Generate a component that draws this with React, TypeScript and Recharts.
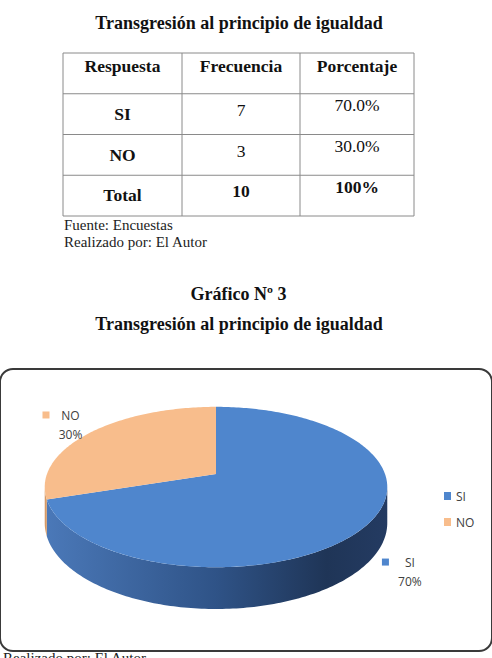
import { PieChart, Pie, Legend } from "recharts";

const categories = ["SI", "NO"];
const frequencies = [7, 3];
const percentLabels = ["70.0%", "30.0%"];
const tableHeaders = ["Respuesta", "Frecuencia", "Porcentaje"];
const totalRow = ["Total", "10", "100%"];
const sliceColors = ["#4f86cd", "#f8bd8c"];

const title = "Transgresión al principio de igualdad";
const chartNumber = "Gráfico Nº 3";
const notes = ["Fuente: Encuestas", "Realizado por: El Autor"];

const pieData = categories.map((name, i) => ({ name, value: frequencies[i], fill: sliceColors[i] }));

const SERIF = "'Times New Roman', 'Liberation Serif', serif";
const SANS = "'Open Sans', 'Liberation Sans', sans-serif";

// fake 3D: tilted ellipse with a bit of perspective
const K = 0.1625;
const FLAT = 0.462;
const DEPTH = 35;
const EDGE = (Math.asin(K) * 180) / Math.PI;
const sideShades: Record<string, string[]> = {
  SI: ["#4b79b9", "#2f5387", "#1f3557", "#243b62"],
  NO: ["#d69a66", "#b07545", "#7d5230", "#8a5b36"],
};

const proj = (cx: number, cy: number, r: number, deg: number) => {
  const a = (deg * Math.PI) / 180;
  const s = Math.sin(a);
  const w = 1 / (1 + K * s);
  return { x: cx + r * Math.cos(a) * w, y: cy - r * FLAT * s * w, w };
};

const arc = (cx: number, cy: number, r: number, a1: number, a2: number) => {
  const n = Math.max(2, Math.ceil(Math.abs(a2 - a1)));
  const pts = [];
  for (let i = 0; i <= n; i++) pts.push(proj(cx, cy, r, a1 + ((a2 - a1) * i) / n));
  return pts;
};

function TopSlice(props: any) {
  const { cx, cy, outerRadius, startAngle, endAngle, fill } = props;
  const pts = arc(cx, cy, outerRadius, startAngle, endAngle);
  const d = `M${cx},${cy}` + pts.map((p) => `L${p.x.toFixed(2)},${p.y.toFixed(2)}`).join("") + "Z";
  return <path d={d} fill={fill} stroke="none" />;
}

function SideSlice(props: any) {
  const { cx, cy, outerRadius, startAngle, endAngle } = props;
  const name = props.name ?? props.payload?.name;
  const shades = sideShades[name] ?? sideShades.SI;
  const lo = Math.min(startAngle, endAngle);
  const hi = Math.max(startAngle, endAngle);
  const paths: string[] = [];
  for (let k = -2; k <= 1; k++) {
    const a = Math.max(lo, -180 + EDGE + 360 * k);
    const b = Math.min(hi, -EDGE + 360 * k);
    if (b - a <= 0) continue;
    const top = arc(cx, cy, outerRadius, a, b);
    const bottom = [...top].reverse();
    paths.push(
      "M" +
        top.map((p) => `${p.x.toFixed(2)},${p.y.toFixed(2)}`).join("L") +
        "L" +
        bottom.map((p) => `${p.x.toFixed(2)},${(p.y + DEPTH * p.w).toFixed(2)}`).join("L") +
        "Z"
    );
  }
  const gid = `side-${name}`;
  const x1 = cx - outerRadius * 1.02;
  const x2 = cx + outerRadius * 1.02;
  return (
    <g>
      <defs>
        <linearGradient id={gid} gradientUnits="userSpaceOnUse" x1={x1} y1={0} x2={x2} y2={0}>
          <stop offset="0" stopColor={shades[0]} />
          <stop offset="0.5" stopColor={shades[1]} />
          <stop offset="0.82" stopColor={shades[2]} />
          <stop offset="1" stopColor={shades[3]} />
        </linearGradient>
      </defs>
      {paths.map((d, i) => (
        <path key={i} d={d} fill={`url(#${gid})`} stroke="none" />
      ))}
    </g>
  );
}

function SliceLabel(props: any) {
  const { cx, cy, outerRadius, midAngle, percent, name, fill } = props;
  const rim = proj(cx, cy, outerRadius, midAngle);
  const front = Math.sin((midAngle * Math.PI) / 180) < 0;
  const bx = cx + (rim.x - cx) * 1.23;
  const by = cy + (rim.y - cy) * 1.17 + (front ? DEPTH * rim.w : 0);
  const textStyle = { fontFamily: SANS, fontSize: 12, fill: "#404040" };
  return (
    <g>
      <rect x={bx - 20} y={by - 13.5} width={7} height={7} fill={fill} />
      <text x={bx + 8} y={by - 9.5} textAnchor="middle" dominantBaseline="central" style={textStyle}>
        {name}
      </text>
      <text x={bx + 8} y={by + 9.5} textAnchor="middle" dominantBaseline="central" style={textStyle}>
        {`${Math.round(percent * 100)}%`}
      </text>
    </g>
  );
}

function LegendBox({ payload }: any) {
  const items = categories
    .map((c) => (payload ?? []).find((p: any) => p.value === c))
    .filter(Boolean);
  return (
    <div style={{ fontFamily: SANS, fontSize: 12, color: "#404040" }}>
      {items.map((p: any) => (
        <div key={p.value} style={{ display: "flex", alignItems: "center", height: 26 }}>
          <span style={{ display: "inline-block", width: 7, height: 8, background: p.color, marginRight: 5 }} />
          {p.value}
        </div>
      ))}
    </div>
  );
}

function DataTable() {
  const left = 63;
  const colX = [63, 182, 300, 414];
  const rowH = 40.75;
  const top = 53;
  const rows = [
    tableHeaders,
    ...categories.map((c, i) => [c, String(frequencies[i]), percentLabels[i]]),
    totalRow,
  ];
  const bodyBase = [26, 22, 17.5];
  return (
    <g>
      {rows.map((row, r) =>
        row.map((cell, c) => {
          const bold = r === 0 || r === rows.length - 1 || c === 0;
          const base = r === 0 ? 18.5 : bodyBase[c];
          return (
            <text
              key={`${r}-${c}`}
              x={(colX[c] + colX[c + 1]) / 2}
              y={top + r * rowH + base}
              textAnchor="middle"
              style={{ fontFamily: SERIF, fontSize: 17.5, fontWeight: bold ? 700 : 400, fill: "#111" }}
            >
              {cell}
            </text>
          );
        })
      )}
      {rows.concat([[]]).map((_, r) => (
        <line key={`h${r}`} x1={left} x2={414} y1={top + r * rowH} y2={top + r * rowH} stroke="#8a8a8a" strokeWidth={1} />
      ))}
      {colX.map((x) => (
        <line key={`v${x}`} x1={x} x2={x} y1={top} y2={top + rows.length * rowH} stroke="#8a8a8a" strokeWidth={1} />
      ))}
    </g>
  );
}

export default function App() {
  const bold18 = { fontFamily: SERIF, fontSize: 18, fontWeight: 700, fill: "#111" };
  return (
    <div style={{ position: "absolute", left: 0, top: 0, width: 492, height: 658, overflow: "hidden", background: "#fff" }}>
      <svg width={492} height={365} style={{ position: "absolute", left: 0, top: 0 }}>
        <text x={239} y={29} textAnchor="middle" style={bold18}>{title}</text>
        <DataTable />
        {notes.map((n, i) => (
          <text key={n} x={64} y={230 + i * 17} style={{ fontFamily: SERIF, fontSize: 15, fill: "#222" }}>{n}</text>
        ))}
        <text x={238.5} y={300} textAnchor="middle" style={bold18}>{chartNumber}</text>
        <text x={239} y={330} textAnchor="middle" style={bold18}>{title}</text>
      </svg>
      <div
        style={{
          position: "absolute",
          left: -1,
          top: 368,
          width: 490,
          height: 280,
          border: "2px solid #3a3a3a",
          borderRadius: 14,
        }}
      />
      <div style={{ position: "absolute", left: 0, top: 365 }}>
        <PieChart width={492} height={293} margin={{ top: 0, right: 0, bottom: 0, left: 0 }}>
          <Pie
            data={pieData}
            dataKey="value"
            nameKey="name"
            cx={216}
            cy={109}
            outerRadius={169}
            startAngle={90}
            endAngle={-270}
            isAnimationActive={false}
            legendType="none"
            label={false}
            labelLine={false}
            shape={SideSlice}
            inactiveShape={SideSlice}
            activeShape={SideSlice}
          />
          <Pie
            data={pieData}
            dataKey="value"
            nameKey="name"
            cx={216}
            cy={109}
            outerRadius={169}
            startAngle={90}
            endAngle={-270}
            isAnimationActive={false}
            legendType="square"
            label={SliceLabel}
            labelLine={false}
            shape={TopSlice}
            inactiveShape={TopSlice}
            activeShape={TopSlice}
          />
          <Legend
            layout="vertical"
            align="right"
            verticalAlign="middle"
            content={LegendBox}
            wrapperStyle={{ left: 444, top: 118, width: 48, right: "auto", bottom: "auto" }}
          />
        </PieChart>
      </div>
      <div style={{ position: "absolute", left: 3, top: 650, fontFamily: SERIF, fontSize: 15, color: "#222", whiteSpace: "nowrap" }}>
        {notes[1]}
      </div>
    </div>
  );
}
